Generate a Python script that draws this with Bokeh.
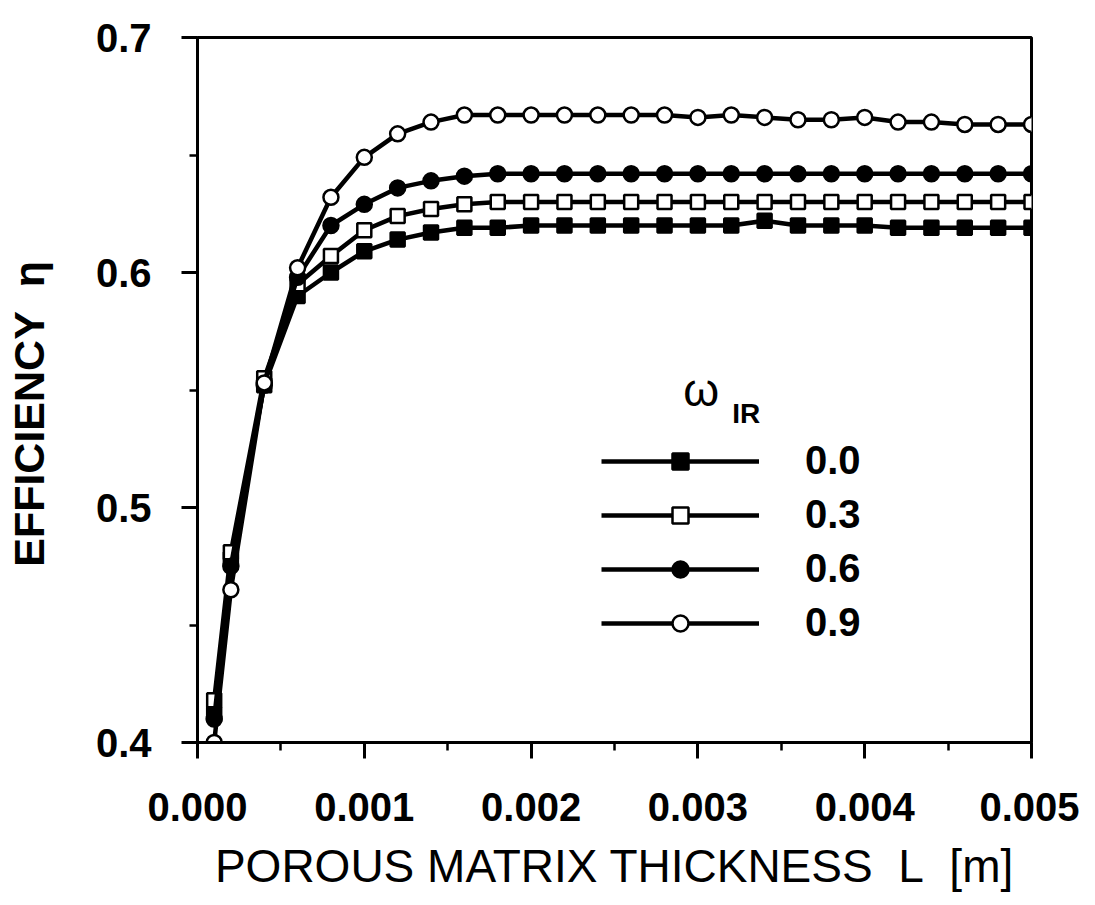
from bokeh.plotting import figure
from bokeh.models import (Range1d, FixedTicker, PrintfTickFormatter, Legend,
                          LegendItem, Label)
from bokeh.embed import file_html
from bokeh.resources import INLINE

# ---------------- data ----------------
thickness = [0.0001, 0.0002, 0.0004, 0.0006, 0.0008, 0.0010, 0.0012, 0.0014,
             0.0016, 0.0018, 0.0020, 0.0022, 0.0024, 0.0026, 0.0028, 0.0030,
             0.0032, 0.0034, 0.0036, 0.0038, 0.0040, 0.0042, 0.0044, 0.0046,
             0.0048, 0.0050]

eta_00 = [0.412, 0.478, 0.552, 0.590, 0.600, 0.609, 0.614, 0.617,
          0.619, 0.619, 0.620, 0.620, 0.620, 0.620, 0.620, 0.620,
          0.620, 0.622, 0.620, 0.620, 0.620, 0.619, 0.619, 0.619,
          0.619, 0.619]

eta_03 = [0.418, 0.481, 0.555, 0.595, 0.607, 0.618, 0.624, 0.627,
          0.629, 0.630, 0.630, 0.630, 0.630, 0.630, 0.630, 0.630,
          0.630, 0.630, 0.630, 0.630, 0.630, 0.630, 0.630, 0.630,
          0.630, 0.630]

eta_06 = [0.410, 0.475, 0.552, 0.598, 0.620, 0.629, 0.636, 0.639,
          0.641, 0.642, 0.642, 0.642, 0.642, 0.642, 0.642, 0.642,
          0.642, 0.642, 0.642, 0.642, 0.642, 0.642, 0.642, 0.642,
          0.642, 0.642]

eta_09 = [0.400, 0.465, 0.553, 0.602, 0.632, 0.649, 0.659, 0.664,
          0.667, 0.667, 0.667, 0.667, 0.667, 0.667, 0.667, 0.666,
          0.667, 0.666, 0.665, 0.665, 0.666, 0.664, 0.664, 0.663,
          0.663, 0.663]

series_labels = ["0.0", "0.3", "0.6", "0.9"]
x_ticks = [0.000, 0.001, 0.002, 0.003, 0.004, 0.005]
x_minor = [0.0005, 0.0015, 0.0025, 0.0035, 0.0045]
y_ticks = [0.4, 0.5, 0.6, 0.7]
y_minor = [0.45, 0.55, 0.65]

FONT = "Liberation Sans"
NB = "\u00a0"

p = figure(frame_width=834, frame_height=705,
           min_border_left=197, min_border_right=48,
           min_border_top=37, min_border_bottom=140,
           x_range=Range1d(0, 0.005), y_range=Range1d(0.4, 0.7),
           output_backend="svg", toolbar_location=None)

p.xgrid.visible = False
p.ygrid.visible = False
p.outline_line_color = "black"
p.outline_line_width = 3
p.background_fill_color = "white"
p.border_fill_color = "white"

# axes
for ax in (p.xaxis[0], p.yaxis[0]):
    ax.axis_line_width = 3
    ax.axis_line_color = "black"
    ax.major_tick_line_width = 3
    ax.minor_tick_line_width = 2.5
    ax.major_tick_in = 0
    ax.major_tick_out = 16
    ax.minor_tick_in = 0
    ax.minor_tick_out = 8
    ax.major_label_text_font = FONT
    ax.major_label_text_font_style = "bold"
    ax.major_label_text_color = "black"
    ax.axis_label_text_font = FONT
    ax.axis_label_text_color = "black"

p.xaxis.ticker = FixedTicker(ticks=x_ticks, minor_ticks=x_minor)
p.yaxis.ticker = FixedTicker(ticks=y_ticks, minor_ticks=y_minor)
p.xaxis.formatter = PrintfTickFormatter(format="%.3f")
p.yaxis.formatter = PrintfTickFormatter(format="%.1f")
p.xaxis.major_label_text_font_size = "40px"
p.yaxis.major_label_text_font_size = "40px"
p.xaxis.major_label_standoff = 34
p.yaxis.major_label_standoff = 30

p.xaxis.axis_label = "POROUS MATRIX THICKNESS" + NB + " L" + NB + " [m]"
p.xaxis.axis_label_text_font_size = "46px"
p.xaxis.axis_label_text_font_style = "normal"
p.xaxis.axis_label_standoff = 16

p.yaxis.axis_label = "EFFICIENCY" + NB + " η" + NB * 4
p.yaxis.axis_label_text_font_size = "43px"
p.yaxis.axis_label_text_font_style = "bold"
p.yaxis.axis_label_standoff = 40

# series
styles = [
    (eta_00, "square", "black"),
    (eta_03, "square", "white"),
    (eta_06, "circle", "black"),
    (eta_09, "circle", "white"),
]

items = []
for (vals, marker, fill), lab in zip(styles, series_labels):
    ln = p.line(thickness, vals, line_color="black", line_width=4.5)
    sc = p.scatter(thickness, vals, marker=marker,
                   size=15 if marker == "circle" else 14,
                   fill_color=fill, line_color="black", line_width=2.5)
    items.append(LegendItem(label=lab, renderers=[ln, sc]))

legend = Legend(items=items, location=(404, 97),
                glyph_width=158, glyph_height=40, label_height=40,
                spacing=9, padding=0, margin=0, label_standoff=46,
                border_line_color=None, background_fill_alpha=0,
                label_text_font=FONT, label_text_font_size="40px",
                label_text_font_style="bold", label_text_color="black")
p.add_layout(legend, "center")

# legend heading  omega_IR
p.add_layout(Label(x=0.00302, y=0.5502, text="ω", text_font=FONT,
                   text_font_size="46px", text_align="center",
                   text_baseline="middle", text_color="black"))
p.add_layout(Label(x=0.00329, y=0.5400, text="IR", text_font=FONT,
                   text_font_size="28px", text_font_style="bold",
                   text_align="center", text_baseline="middle",
                   text_color="black"))

open("out.html", "w").write(file_html(p, INLINE))
